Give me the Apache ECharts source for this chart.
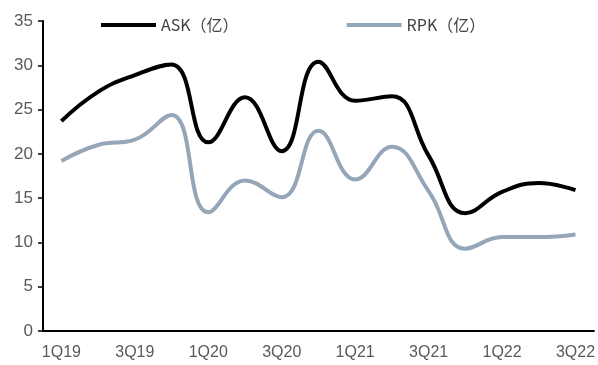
<!DOCTYPE html>
<html lang="zh-CN">
<head>
    <meta charset="UTF-8">
    <title>ASK / RPK</title>
    <script src="https://cdn.jsdelivr.net/npm/echarts@6.0.0/dist/echarts.min.js"></script>
    <style>
        html, body { margin: 0; padding: 0; background: #fff; }
        #chart { width: 598px; height: 365px; }
    </style>
</head>
<body>
<div id="chart"></div>
<script>
    // 季度
    var quarters = ['1Q19', '2Q19', '3Q19', '4Q19', '1Q20', '2Q20', '3Q20', '4Q20',
        '1Q21', '2Q21', '3Q21', '4Q21', '1Q22', '2Q22', '3Q22'];
    // ASK（亿）
    var askValues = [23.7, 27.0, 28.9, 30.1, 21.3, 26.4, 20.3, 30.4, 26.0, 26.5, 19.8, 13.3, 15.7, 16.7, 15.9];
    // RPK（亿）
    var rpkValues = [19.2, 21.0, 21.6, 24.4, 13.4, 17.0, 15.1, 22.6, 17.1, 20.8, 15.8, 9.3, 10.6, 10.6, 10.9];
    var yTicks = [0, 5, 10, 15, 20, 25, 30, 35];

    var chart = echarts.init(document.getElementById('chart'));
    var labelFont = "Liberation Sans, 'Noto Sans CJK SC', sans-serif";

    chart.setOption({
        animation: false,
        legend: {
            left: 96,
            top: 12,
            itemWidth: 55,
            itemHeight: 4,
            itemGap: 108,
            icon: 'rect',
            textStyle: { fontSize: 16, color: '#404040', fontFamily: "'Noto Sans CJK SC', sans-serif" },
            data: ['ASK（亿）', 'RPK（亿）']
        },
        grid: { left: 43, right: 2, top: 21, bottom: 34, containLabel: false },
        xAxis: {
            type: 'category',
            data: quarters,
            boundaryGap: true,
            axisLine: { lineStyle: { color: '#000', width: 2 } },
            axisTick: { show: false },
            axisLabel: {
                interval: 1,
                margin: 14,
                fontSize: 16,
                color: '#595959',
                fontFamily: labelFont
            },
            splitLine: { show: false }
        },
        yAxis: {
            type: 'value',
            min: yTicks[0],
            max: yTicks[yTicks.length - 1],
            interval: 5,
            axisLine: { show: true, lineStyle: { color: '#000', width: 2 } },
            axisTick: { show: true, length: 5, lineStyle: { color: '#000', width: 1.5 } },
            axisLabel: { margin: 10, fontSize: 17, color: '#595959', fontFamily: labelFont },
            splitLine: { show: false }
        },
        series: [{
            name: 'ASK（亿）',
            type: 'line',
            data: askValues,
            smooth: 0.45,
            symbol: 'none',
            itemStyle: { color: '#000' },
            lineStyle: { color: '#000', width: 4 }
        }, {
            name: 'RPK（亿）',
            type: 'line',
            data: rpkValues,
            smooth: 0.45,
            symbol: 'none',
            itemStyle: { color: '#94a6b8' },
            lineStyle: { color: '#94a6b8', width: 4 }
        }]
    });
</script>
</body>
</html>
